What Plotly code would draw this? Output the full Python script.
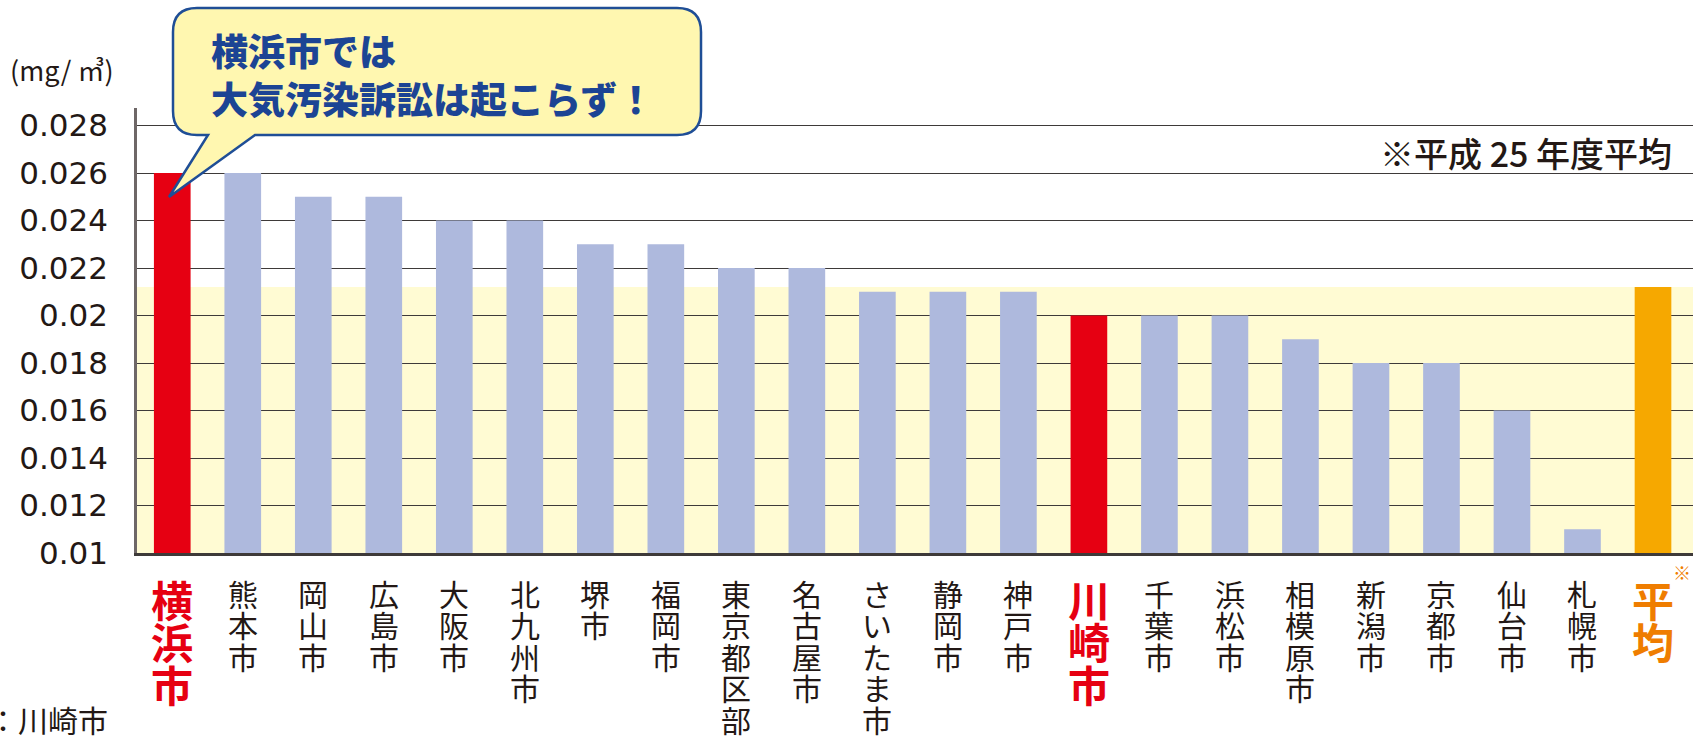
import plotly.graph_objects as go

# ---------------- data ----------------
cities = ["横浜市", "熊本市", "岡山市", "広島市", "大阪市", "北九州市", "堺市", "福岡市",
          "東京都区部", "名古屋市", "さいたま市", "静岡市", "神戸市", "川崎市", "千葉市",
          "浜松市", "相模原市", "新潟市", "京都市", "仙台市", "札幌市", "平均"]
values = [0.026, 0.026, 0.025, 0.025, 0.024, 0.024, 0.023, 0.023,
          0.022, 0.022, 0.021, 0.021, 0.021, 0.020, 0.020,
          0.020, 0.019, 0.018, 0.018, 0.016, 0.011, 0.0212]
tick_vals = [0.010, 0.012, 0.014, 0.016, 0.018, 0.020, 0.022, 0.024, 0.026, 0.028]
tick_text = ["0.01", "0.012", "0.014", "0.016", "0.018", "0.02", "0.022", "0.024", "0.026", "0.028"]
red_cities = ["横浜市", "川崎市"]
average_label = "平均"
average_value = values[cities.index(average_label)]

unit_text = "(mg/ ㎥)"
note_text = "※平成 25 年度平均"
bubble_lines = ["横浜市では", "大気汚染訴訟は起こらず！"]
source_text = "：川崎市"

# ---------------- style ----------------
W, H = 1696, 739
ML, MR, MT, MB = 137, 3, 108, 186
PW, PH = W - ML - MR, H - MT - MB

RED = "#E60012"
BLUE = "#AEB9DD"
ORANGE_BAR = "#F6A800"
ORANGE_TXT = "#EF7D00"
DARK = "#231815"
BAND = "#FFFBD3"
NAVY = "#1C4494"
FONT = "Noto Sans CJK JP"


def px(x):
    return (x - ML) / PW


def py(y):
    return (H - MB - y) / PH


colors = []
for c in cities:
    if c in red_cities:
        colors.append(RED)
    elif c == average_label:
        colors.append(ORANGE_BAR)
    else:
        colors.append(BLUE)

fig = go.Figure()
fig.add_trace(go.Bar(x=cities, y=values, marker=dict(color=colors, line=dict(width=0)),
                     hoverinfo="x+y"))

# yellow band up to the average
fig.add_shape(type="rect", xref="paper", yref="y", x0=0, x1=1, y0=0.01, y1=average_value,
              fillcolor=BAND, line=dict(width=0), layer="below")

annotations = []
# vertical category labels
for c in cities:
    if c in red_cities or c == average_label:
        base, size, col = 32.5, 42, (RED if c in red_cities else ORANGE_TXT)
        txt = "<br>".join(f"<b><span style='font-size:{size}px'>{ch}</span></b>" for ch in c)
        yshift = -13
    else:
        base, size, col = 24.2, 30, DARK
        txt = "<br>".join(f"<span style='font-size:{size}px'>{ch}</span>" for ch in c)
        yshift = -16
    annotations.append(dict(x=c, xref="x", y=0, yref="paper", yanchor="top", xanchor="center",
                            yshift=yshift, text=txt, showarrow=False,
                            font=dict(family=FONT, size=base, color=col)))

annotations.append(dict(x=average_label, xref="x", xshift=29, y=py(572), yref="paper",
                        text="※", showarrow=False, xanchor="center", yanchor="middle",
                        font=dict(family=FONT, size=18, color=ORANGE_TXT)))

annotations.append(dict(x=px(8), xref="paper", y=py(70), yref="paper", xanchor="left",
                        yanchor="middle", text=unit_text, showarrow=False,
                        font=dict(family=FONT, size=27, color=DARK)))
annotations.append(dict(x=px(1674), xref="paper", y=py(152), yref="paper", xanchor="right",
                        yanchor="middle", text=note_text, showarrow=False,
                        font=dict(family=FONT, size=34, color=DARK, weight=500)))
annotations.append(dict(x=px(110), xref="paper", y=py(719), yref="paper", xanchor="right",
                        yanchor="middle", text=source_text, showarrow=False,
                        font=dict(family=FONT, size=30, color=DARK)))

# speech bubble
x0, x1, y0, y1, r = 173, 701, 8, 135, 24
tip = (169, 197)
tb_l, tb_r = 208, 255
pts = [("M", [(x0 + r, y0)]), ("L", [(x1 - r, y0)]), ("Q", [(x1, y0), (x1, y0 + r)]),
       ("L", [(x1, y1 - r)]), ("Q", [(x1, y1), (x1 - r, y1)]), ("L", [(tb_r, y1)]),
       ("L", [tip]), ("L", [(tb_l, y1)]), ("L", [(x0 + r, y1)]),
       ("Q", [(x0, y1), (x0, y1 - r)]), ("L", [(x0, y0 + r)]), ("Q", [(x0, y0), (x0 + r, y0)])]
path = ""
for cmd, ps in pts:
    path += cmd + " " + " ".join(f"{px(a):.5f},{py(b):.5f}" for a, b in ps) + " "
path += "Z"
fig.add_shape(type="path", xref="paper", yref="paper", path=path,
              fillcolor="#FFF7B0", line=dict(color="#1F4E96", width=2.5), layer="above")

annotations.append(dict(x=px(209), xref="paper", y=py(74), yref="paper", xanchor="left",
                        yanchor="middle", align="left", showarrow=False,
                        text="<br>".join(bubble_lines),
                        font=dict(family=FONT, size=37, color=NAVY, weight=900)))

fig.update_layout(
    width=W, height=H,
    margin=dict(l=ML, r=MR, t=MT, b=MB, pad=0),
    paper_bgcolor="white", plot_bgcolor="rgba(0,0,0,0)",
    showlegend=False, bargap=0.48,
    annotations=annotations,
    font=dict(family=FONT, color=DARK),
)
fig.update_xaxes(type="category", categoryorder="array", categoryarray=cities,
                 showticklabels=False, ticks="", showgrid=False, showline=True,
                 linecolor="#3E3A39", linewidth=2.5, zeroline=False, fixedrange=True)
fig.update_yaxes(range=[0.01, 0.01 + 0.001 * PH / 23.75], tickvals=tick_vals, ticktext=tick_text,
                 showgrid=True, gridcolor="#3E3A39", gridwidth=1.4, zeroline=False,
                 showline=True, linecolor="#6E6767", linewidth=2.5, ticks="",
                 ticklabelstandoff=20,
                 tickfont=dict(family="DejaVu Sans", size=31, color=DARK), fixedrange=True)

fig.write_html(
    "out.html",
    config={"displayModeBar": False},
    post_script="document.body.style.margin='0';document.body.style.padding='0';"
                "document.body.style.overflow='hidden';",
)
